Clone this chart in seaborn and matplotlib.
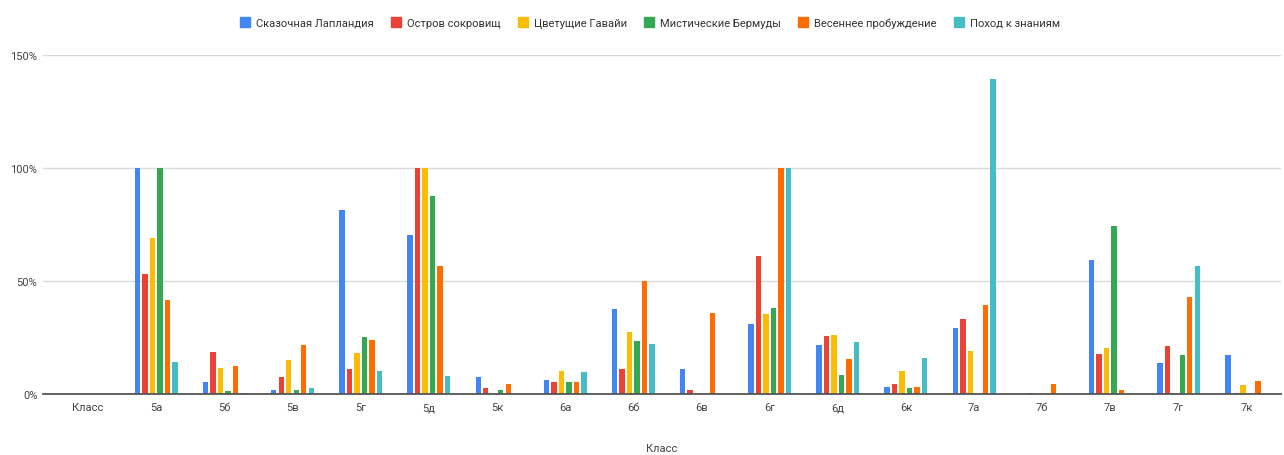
import matplotlib
matplotlib.use("Agg")
import matplotlib.pyplot as plt
import seaborn as sns
import pandas as pd
from matplotlib.ticker import FuncFormatter
from matplotlib.lines import Line2D

categories = ["Класс", "5а", "5б", "5в", "5г", "5д", "5к", "6а", "6б", "6в",
              "6г", "6д", "6к", "7а", "7б", "7в", "7г", "7к"]
series_names = ["Сказочная Лапландия", "Остров сокровищ", "Цветущие Гавайи",
                "Мистические Бермуды", "Весеннее пробуждение", "Поход к знаниям"]

laplandia = [0, 100, 5.2, 1.8, 81.3, 70.5, 7.4, 6.3, 37.6, 10.9, 30.8, 21.6, 2.9, 29.0, 0, 59.2, 13.7, 17.1]
ostrov    = [0, 53.0, 18.7, 7.4, 10.9, 100, 2.4, 5.2, 10.9, 1.8, 61.0, 25.6, 4.6, 33.0, 0.6, 17.7, 21.1, 0.6]
gavaii    = [0, 69.0, 11.3, 14.9, 18.3, 100, 0, 10.3, 27.4, 0.6, 35.3, 26.2, 10.3, 18.9, 0, 20.5, 0.6, 4.0]
bermudy   = [0, 100, 1.2, 1.8, 25.0, 87.8, 1.8, 5.2, 23.4, 0, 38.1, 8.5, 2.4, 0, 0, 74.5, 17.1, 0]
vesna     = [0, 41.5, 12.5, 21.6, 23.9, 56.8, 4.6, 5.2, 50.0, 35.9, 100, 15.5, 2.9, 39.3, 4.6, 1.8, 42.7, 5.7]
pohod     = [0, 14.3, 0.6, 2.4, 10.3, 8.0, 0, 9.7, 22.2, 0, 100, 22.8, 15.9, 139.5, 0, 0, 56.8, 0]

colors = ["#4285F4", "#EA4335", "#FBBC04", "#34A853", "#FF6D01", "#46BDC6"]

all_series = [laplandia, ostrov, gavaii, bermudy, vesna, pohod]
rows = []
for name, vals in zip(series_names, all_series):
    for cat, v in zip(categories, vals):
        rows.append({"Класс": cat, "Серия": name, "Значение": v})
df = pd.DataFrame(rows)

sns.set_theme(style="white")
plt.rcParams["font.family"] = ["Roboto", "DejaVu Sans"]

fig = plt.figure(figsize=(12.84, 4.56), dpi=100)
ax = fig.add_axes([0.0335, 0.134, 0.964, 0.743])

sns.barplot(data=df, x="Класс", y="Значение", hue="Серия", order=categories,
            hue_order=series_names, palette=colors, width=0.66, ax=ax,
            legend=False, errorbar=None, saturation=1)

# narrow bars with small gaps
for p in ax.patches:
    w = p.get_width()
    nw = w * 0.72
    p.set_x(p.get_x() + (w - nw) / 2)
    p.set_width(nw)
    p.set_linewidth(0)

ax.set_ylim(0, 150)
ax.set_xlim(-0.66, len(categories) - 0.5)
ax.set_yticks([0, 50, 100, 150])
ax.yaxis.set_major_formatter(FuncFormatter(lambda v, _: f"{int(v)}%"))
ax.grid(axis="y", color="#d9d9d9", linewidth=1)
ax.set_axisbelow(True)
for s in ["top", "right", "left"]:
    ax.spines[s].set_visible(False)
ax.spines["bottom"].set_color("#555555")
ax.spines["bottom"].set_linewidth(1.3)
ax.tick_params(axis="both", length=0, labelsize=8, colors="#444444")
ax.tick_params(axis="y", pad=4)
ax.tick_params(axis="x", pad=6)
ax.set_ylabel("")
ax.set_xlabel("Класс", fontsize=8, color="#444444", labelpad=22)

handles = [Line2D([], [], marker="s", linestyle="", markersize=7,
                  markerfacecolor=c, markeredgecolor=c) for c in colors]
fig.legend(handles, series_names, loc="center", bbox_to_anchor=(0.506, 0.948),
           ncol=6, frameon=False, fontsize=8, handletextpad=0.5,
           columnspacing=1.5, labelcolor="#333333", handlelength=1.0)

fig.savefig("out.png", dpi=100)
